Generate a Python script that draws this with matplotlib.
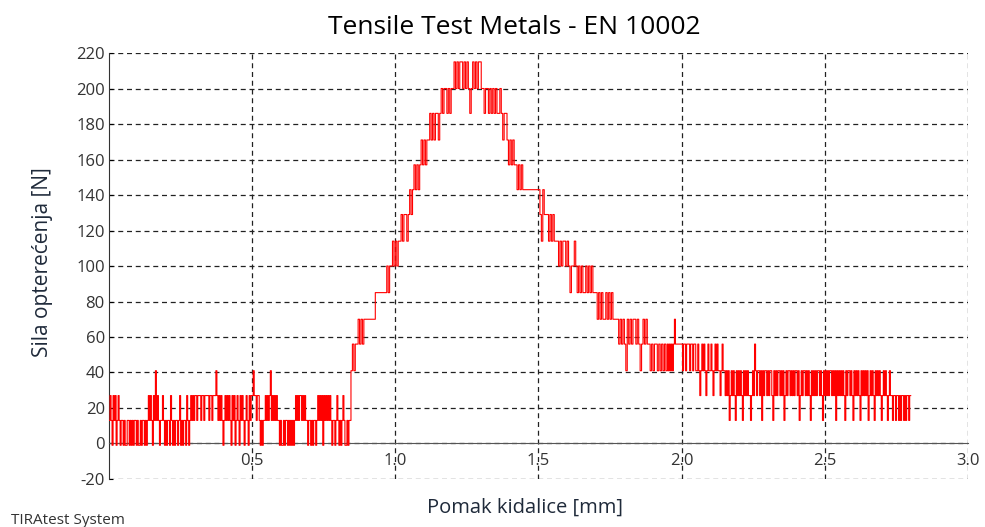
import numpy as np
import matplotlib
matplotlib.use("Agg")
import matplotlib.pyplot as plt

plt.rcParams['font.family'] = ['Open Sans', 'DejaVu Sans']
plt.rcParams['axes.unicode_minus'] = False

# Displacement ranges [mm] of the recorded segments
segment_edges = [0.0, 0.845, 1.205, 1.39, 1.95, 2.80]

# Force readings [N] (load cell resolution ~14.3 N)
force_base = [13, 27, 13, -1, 27, 13, 27, -1, 13, 27, 13, -1, 13,
              13, -1, 13, -1, -1, 13, 13, -1, 13, -1, 13, -1, 13, 13, -1, 13, -1, -1, 13, -1, 13, 13, -1, 13, -1, 13,
              27, 13, 27, 13, -1, 27, 13, 41, 13, 27,
              13, -1, 13, 13, 27, 13, -1, 13, -1, 13, 13, -1, 27, 13, -1, 13, -1, 13, 13, -1, 13, 27, -1, 13, -1,
              13, 13, -1, 27, 13, -1, 13, 27, 13,
              27, 13, 27, 27, 13, 27, 27, 27, 13, 27, 27, 13, 27, 27, 27, 27, 13, 27, 27, 13, 27, 27, 27,
              41, 27, 13, 27,
              13, 27, 13, -1, 13, 27, 13, 27, 13,
              27, 13, -1, 27, 13, 27, -1, 13, 27, 13, -1, 27, 13, 27, 13, -1, 13, 27, 13, -1,
              27, 13, 27, 27, 41, 27, 27, 13, 27, 27, 13,
              -1, 13, -1, 13,
              13, 27, 13, 27, 13, 27, 41, 13, 27, 13, 27, 13, 27, 13,
              13, -1, 13, -1, -1, 13, -1, 13, 13, -1, 13, -1, 13, -1, 13, -1, 13,
              27, 13, 27, 13, 27, 27, 13, 27, 13, 27, 13,
              13, -1, 13, 13, -1, 13, -1, 13, 13, -1, 13,
              27, 13, 27, 13, 27, -1, 27, 13, 27, 13, 27, 13, 27,
              13, -1, 13, 13, -1, 13, 27, 13, -1, 13, -1, 13, 27, 13, -1, -1, 13, -1, 13, 13]
force_rise = [41, 56, 41, 56, 56,
              70, 56, 70, 56, 70,
              70, 70, 70, 70, 70, 70, 70,
              85, 85, 85, 85, 85, 85, 85,
              85, 100, 85, 100, 100,
              114, 100, 114, 100, 114,
              114, 129, 114, 129, 129, 114, 129,
              143, 129, 143, 157, 143, 157, 143,
              157, 171, 157, 171, 157, 171, 171,
              186, 171, 186, 171, 186, 186, 171,
              186, 200, 186, 200, 200, 186, 200, 186, 200, 200]
force_peak = [215, 200, 215, 200, 215, 215, 200, 215, 200, 215, 200, 186, 200, 215, 200, 215, 200, 215, 215, 200,
              200, 186, 200, 200, 186, 200,
              186, 200, 186, 200, 186, 186, 200, 186, 171, 186, 186]
force_fall = [171, 157, 171, 157, 171, 157, 157,
              143, 157, 143, 157, 143, 143,
              143, 143, 143, 143, 143, 143, 143, 143, 143,
              143, 129, 114, 143, 129, 129,
              129, 114, 129, 114, 129, 114, 114,
              114, 100, 114, 100, 114, 114, 100, 114, 100, 85,
              100, 100, 114, 100,
              85, 100, 85, 100, 85, 85, 100, 85, 100, 85, 100, 85, 85,
              85, 70, 85, 70, 85, 70, 70, 85, 70, 85, 70, 85, 70, 70, 70,
              70, 56, 70, 56, 70, 56, 41, 70, 56, 70, 56, 70, 70, 56, 70, 56, 41, 56, 70, 56, 70, 56,
              56, 41, 56, 41, 56, 56, 41, 56, 41, 56, 41, 56, 41]
force_tail = [56, 41, 56, 41, 56, 41, 56,
              70,
              56, 56, 56, 56, 56, 56,
              56, 41, 56, 56, 41, 56, 56, 56, 41, 56, 56, 41, 56, 56, 41,
              41, 56, 41, 27, 41, 56, 41, 56, 41, 27, 41, 56, 41, 41, 56, 41, 27, 41, 56, 41, 56, 41, 41,
              27, 41, 56, 41, 41, 27,
              41, 27, 41, 13, 27, 41, 27, 41, 27, 13, 41, 27, 41, 27, 41, 27, 13, 41, 27, 41, 27, 41, 27,
              27, 13, 27, 41, 27,
              56,
              41, 27, 41, 41, 27, 41, 13, 41, 27, 41, 41, 27, 41, 27, 41, 41, 27, 13, 41, 27,
              41, 27, 41, 41, 27, 41, 27, 41, 13, 27, 41, 27, 41, 41, 27, 41, 27, 41, 27, 41,
              41, 27, 41, 13, 27, 41, 27, 41, 41, 27, 41, 27, 41, 27, 13, 41, 27, 41, 27, 41,
              27, 41, 41, 27, 41, 27, 13, 41, 27, 41, 27, 41, 27, 41, 41, 27, 41, 27, 41, 13,
              41, 27, 41, 27, 41, 27, 41, 27, 13, 41, 27, 41, 41, 27, 41, 27, 13, 41, 27, 41,
              27, 41, 27, 13, 41, 27, 41, 27, 41, 27, 41, 13, 27, 41, 27, 41, 27, 13, 41, 27,
              41, 27, 41, 27, 13, 27, 41, 27, 41, 27, 13, 27, 41, 27, 27, 13, 27,
              27, 13, 27, 27, 13, 27, 13, 27, 27, 13, 27, 13, 27, 27, 13, 27, 27]

segments = [force_base, force_rise, force_peak, force_fall, force_tail]
x_parts = []
for i, seg in enumerate(segments):
    last = i == len(segments) - 1
    x_parts.append(np.linspace(segment_edges[i], segment_edges[i + 1], len(seg), endpoint=last))
displacement = np.concatenate(x_parts)
force = np.concatenate([np.array(s) for s in segments])

x_ticks = [0.5, 1.0, 1.5, 2.0, 2.5, 3.0]
y_ticks = list(range(-20, 221, 20))

fig = plt.figure(figsize=(9.85, 5.27), dpi=100)
ax = fig.add_axes([0.1107, 0.0911, 0.8720, 0.8083])

ax.plot(displacement, force, color='#ff0000', linewidth=0.8, drawstyle='steps-post', zorder=3)

ax.set_xlim(0, 3.0)
ax.set_ylim(-20, 220)
ax.set_xticks(x_ticks)
ax.set_xticklabels([f'{t:.1f}' for t in x_ticks])
ax.set_yticks(y_ticks)

# grid: black dashed, axis line at y = 0
ax.grid(True, color='#222222', linestyle=(0, (4, 3)), linewidth=0.9)
ax.spines['top'].set_visible(False)
ax.spines['right'].set_visible(False)
ax.spines['bottom'].set_position(('data', 0))
ax.spines['bottom'].set_color('#555555')
ax.spines['left'].set_color('#333333')
ax.tick_params(axis='y', direction='in', length=3, labelsize=12, labelcolor='#333333', pad=3)
ax.tick_params(axis='x', direction='in', length=0, labelsize=12, labelcolor='#333333', pad=7)

fig.text(0.522, 0.948, 'Tensile Test Metals - EN 10002', ha='center', va='center', fontsize=19)
fig.text(0.043, 0.503, 'Sila opterećenja [N]', ha='center', va='center', rotation=90,
         fontsize=15, color='#1f2a3a')
fig.text(0.533, 0.036, 'Pomak kidalice [mm]', ha='center', va='center', fontsize=14.5, color='#1f2a3a')
fig.text(0.011, 0.006, 'TIRAtest System', ha='left', va='baseline', fontsize=11, color='#333333')

fig.savefig('out.png', dpi=100)
